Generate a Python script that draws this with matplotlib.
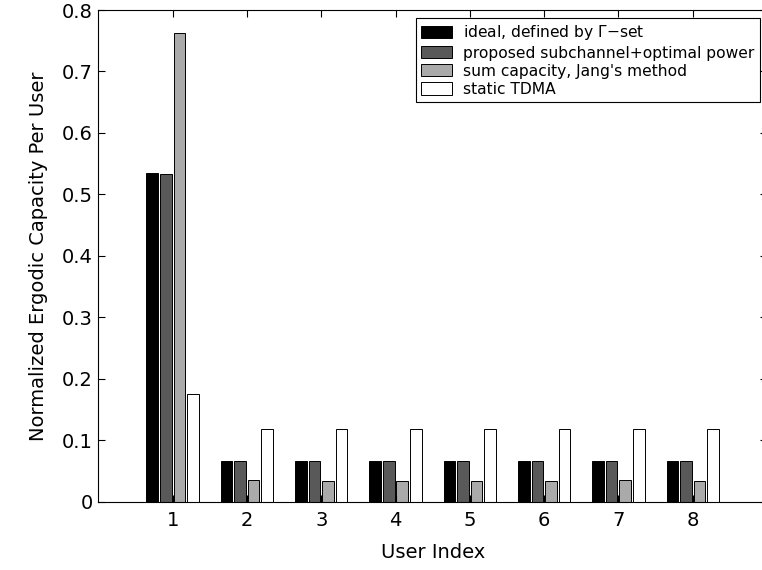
import numpy as np
import matplotlib
matplotlib.use('Agg')
import matplotlib.pyplot as plt

# per-user normalized ergodic capacity for each scheme
users = [1, 2, 3, 4, 5, 6, 7, 8]
ideal = [0.534, 0.067, 0.067, 0.067, 0.067, 0.067, 0.067, 0.067]
proposed = [0.533, 0.067, 0.067, 0.067, 0.067, 0.067, 0.067, 0.067]
jang = [0.763, 0.035, 0.033, 0.034, 0.033, 0.034, 0.035, 0.033]
tdma = [0.175, 0.118, 0.118, 0.118, 0.118, 0.118, 0.118, 0.118]

labels = [r'ideal, defined by $\Gamma$$-$set',
          'proposed subchannel+optimal power',
          "sum capacity, Jang's method",
          'static TDMA']
colors = ['#000000', '#595959', '#aaaaaa', '#ffffff']

plt.rcParams['font.family'] = ['DejaVu Sans']
plt.rcParams['mathtext.fontset'] = 'dejavusans'

fig = plt.figure(figsize=(7.62, 5.70), dpi=100)
ax = fig.add_axes([98.3 / 762, 68.3 / 570, 668.7 / 762, 491.7 / 570])

x = np.array(users)
pitch = 0.182
width = 0.157
series = [ideal, proposed, jang, tdma]
for i, (vals, lab, col) in enumerate(zip(series, labels, colors)):
    ax.bar(x + (i - 1.5) * pitch, vals, width, color=col, edgecolor='black',
           linewidth=0.7, label=lab)

ax.set_xlim(0, 9)
ax.set_ylim(0, 0.8)
ax.set_xticks(users)
yt = np.arange(0, 0.81, 0.1)
ax.set_yticks(yt)
ax.set_yticklabels(['0'] + ['%.1f' % v for v in yt[1:]])
ax.tick_params(direction='in', top=True, right=True, length=5, width=0.8,
               labelsize=14, colors='black')
ax.tick_params(axis='x', pad=7)
ax.tick_params(axis='y', pad=4)
for sp in ax.spines.values():
    sp.set_linewidth(0.8)

ax.set_xlabel('User Index', fontsize=14, labelpad=9)
ax.set_ylabel('Normalized Ergodic Capacity Per User', fontsize=14, labelpad=10)

leg = ax.legend(loc='upper right', bbox_to_anchor=(760 / 762, 1 - 18 / 570),
                bbox_transform=fig.transFigure, borderaxespad=0, fontsize=11.2,
                fancybox=False, framealpha=1, edgecolor='black',
                handlelength=1.95, handleheight=0.85, handletextpad=0.75,
                labelspacing=0.2, borderpad=0.35)
leg.get_frame().set_linewidth(0.8)

fig.savefig('out.png', dpi=100)
